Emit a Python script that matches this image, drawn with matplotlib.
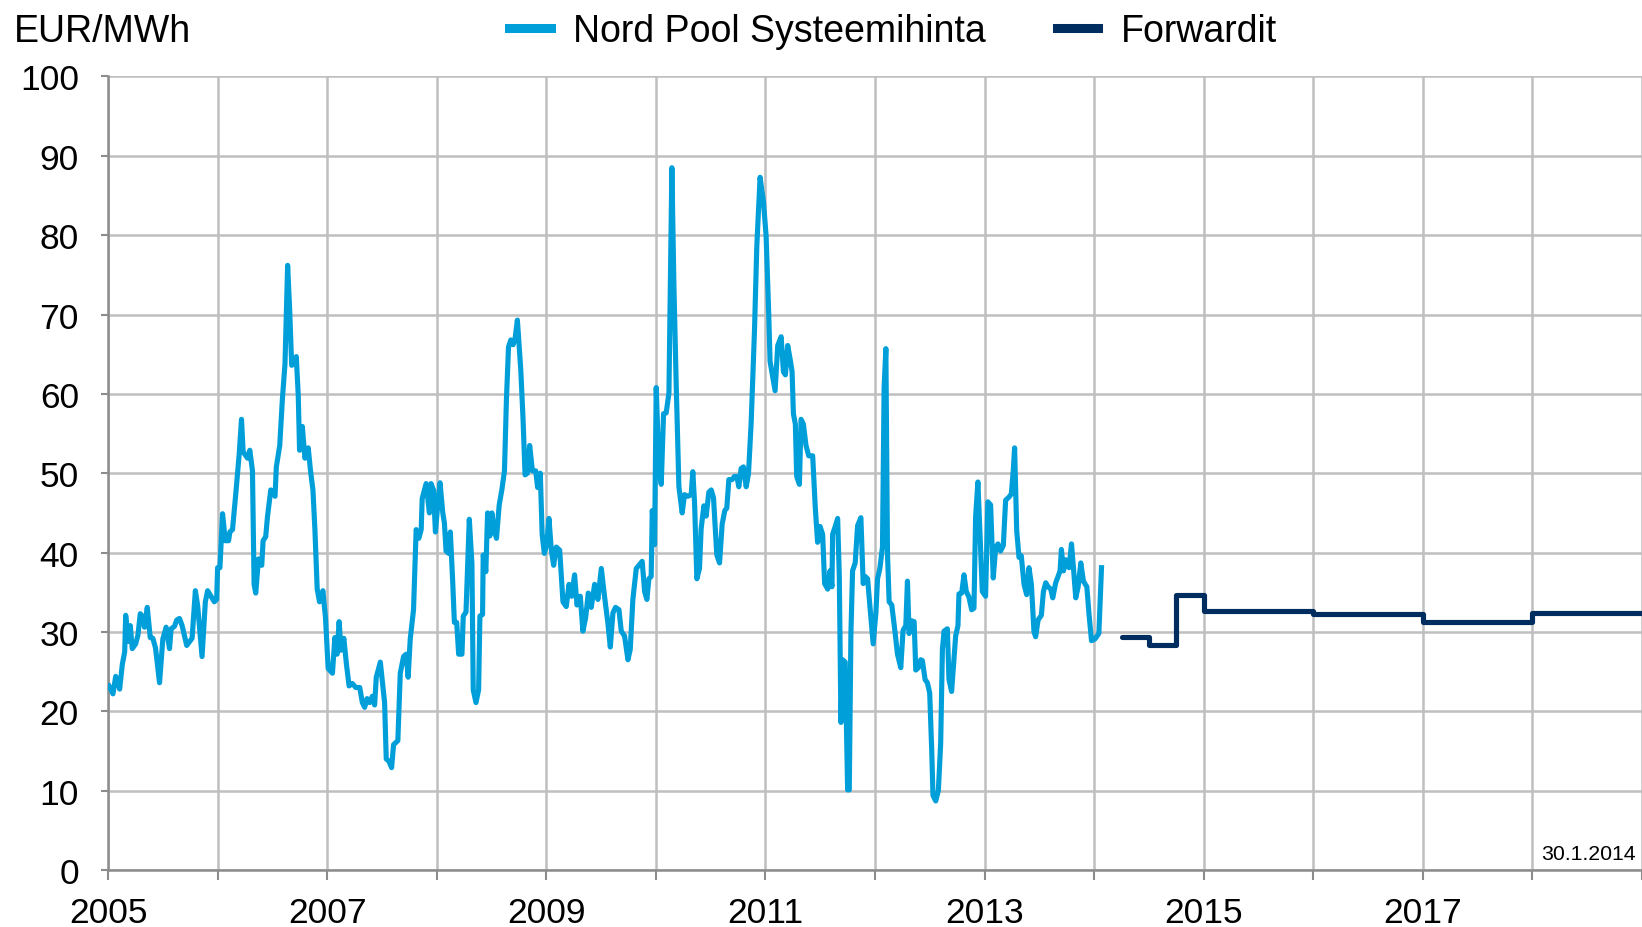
import matplotlib.pyplot as plt
from matplotlib.lines import Line2D

plt.rcParams['font.family'] = ['Liberation Sans', 'DejaVu Sans']

# Nord Pool system price (decimal year, EUR/MWh)
spot_year = [
    2005.009, 2005.045, 2005.070, 2005.106, 2005.130, 2005.152, 2005.161, 2005.185, 2005.203, 2005.221,
    2005.252, 2005.273, 2005.294, 2005.312, 2005.333, 2005.358, 2005.385, 2005.409, 2005.433, 2005.470,
    2005.500, 2005.530, 2005.561, 2005.576, 2005.606, 2005.627, 2005.652, 2005.676, 2005.718, 2005.767,
    2005.797, 2005.818, 2005.858, 2005.888, 2005.909, 2005.970, 2005.991,
    2006.000, 2006.021, 2006.045, 2006.070, 2006.100, 2006.112, 2006.136, 2006.167, 2006.197, 2006.218,
    2006.233, 2006.273, 2006.294, 2006.318, 2006.333, 2006.348, 2006.373, 2006.403, 2006.415, 2006.439,
    2006.455, 2006.485, 2006.524, 2006.536, 2006.567, 2006.591, 2006.615, 2006.639, 2006.658, 2006.676,
    2006.694, 2006.718, 2006.736, 2006.748, 2006.773, 2006.797, 2006.827, 2006.848, 2006.870, 2006.888,
    2006.909, 2006.930, 2006.961, 2006.985,
    2007.009, 2007.048, 2007.070, 2007.091, 2007.109, 2007.127, 2007.152, 2007.176, 2007.200, 2007.230,
    2007.261, 2007.297, 2007.321, 2007.342, 2007.364, 2007.388, 2007.412, 2007.433, 2007.448, 2007.485,
    2007.524, 2007.539, 2007.564, 2007.588, 2007.606, 2007.645, 2007.667, 2007.697, 2007.721, 2007.739,
    2007.758, 2007.788, 2007.812, 2007.836, 2007.858, 2007.867, 2007.903, 2007.933, 2007.948, 2007.970,
    2007.988,
    2008.009, 2008.030, 2008.055, 2008.070, 2008.085, 2008.109, 2008.124, 2008.145, 2008.161, 2008.182,
    2008.200, 2008.230, 2008.242, 2008.267, 2008.297, 2008.321, 2008.333, 2008.358, 2008.382, 2008.394,
    2008.418, 2008.424, 2008.448, 2008.464, 2008.485, 2008.503, 2008.524, 2008.545, 2008.570, 2008.594,
    2008.618, 2008.636, 2008.655, 2008.676, 2008.697, 2008.715, 2008.736, 2008.767, 2008.788, 2008.806,
    2008.827, 2008.848, 2008.873, 2008.903, 2008.921, 2008.945, 2008.962, 2008.982,
    2009.003, 2009.024, 2009.046, 2009.067, 2009.091, 2009.122, 2009.152, 2009.182, 2009.207, 2009.231,
    2009.258, 2009.280, 2009.310, 2009.334, 2009.359, 2009.383, 2009.410, 2009.441, 2009.471, 2009.502,
    2009.532, 2009.562, 2009.584, 2009.608, 2009.632, 2009.663, 2009.684, 2009.714, 2009.745, 2009.766,
    2009.790, 2009.821, 2009.845, 2009.875, 2009.897, 2009.918, 2009.936, 2009.957, 2009.967, 2009.988,
    2010.003, 2010.027, 2010.049, 2010.070, 2010.094, 2010.119, 2010.146, 2010.164, 2010.185, 2010.210,
    2010.240, 2010.261, 2010.292, 2010.322, 2010.337, 2010.353, 2010.374, 2010.398, 2010.413, 2010.438,
    2010.459, 2010.483, 2010.505, 2010.526, 2010.556, 2010.581, 2010.605, 2010.629, 2010.647, 2010.666,
    2010.696, 2010.717, 2010.739, 2010.757, 2010.778, 2010.799, 2010.824, 2010.845, 2010.869, 2010.900,
    2010.921, 2010.951, 2010.982,
    2011.006, 2011.030, 2011.042, 2011.067, 2011.088, 2011.112, 2011.143, 2011.164, 2011.182, 2011.203,
    2011.225, 2011.243, 2011.255, 2011.273, 2011.285, 2011.310, 2011.325, 2011.346, 2011.370, 2011.395,
    2011.431, 2011.455, 2011.476, 2011.498, 2011.522, 2011.540, 2011.568, 2011.589, 2011.607, 2011.613,
    2011.637, 2011.659, 2011.674, 2011.689, 2011.704, 2011.728, 2011.750, 2011.765, 2011.780, 2011.795,
    2011.819, 2011.841, 2011.871, 2011.892, 2011.910, 2011.932, 2011.962, 2011.983,
    2012.008, 2012.023, 2012.044, 2012.068, 2012.083, 2012.099, 2012.114, 2012.129, 2012.153, 2012.184,
    2012.205, 2012.235, 2012.256, 2012.281, 2012.296, 2012.311, 2012.335, 2012.357, 2012.372, 2012.396,
    2012.417, 2012.432, 2012.457, 2012.478, 2012.499, 2012.517, 2012.529, 2012.554, 2012.578, 2012.599,
    2012.615, 2012.630, 2012.660, 2012.675, 2012.699, 2012.720, 2012.736, 2012.757, 2012.766, 2012.791,
    2012.812, 2012.833, 2012.857, 2012.882, 2012.903, 2012.918, 2012.939, 2012.957, 2012.979,
    2013.009, 2013.030, 2013.055, 2013.079, 2013.101, 2013.122, 2013.146, 2013.171, 2013.192, 2013.223,
    2013.244, 2013.262, 2013.274, 2013.293, 2013.314, 2013.335, 2013.360, 2013.384, 2013.405, 2013.427,
    2013.451, 2013.466, 2013.488, 2013.518, 2013.537, 2013.558, 2013.579, 2013.604, 2013.622, 2013.649,
    2013.671, 2013.689, 2013.701, 2013.720, 2013.741, 2013.771, 2013.793, 2013.811, 2013.832, 2013.854,
    2013.878, 2013.902, 2013.933, 2013.954, 2013.976,
    2014.006, 2014.043, 2014.067,
]
spot_price = [
    23.2, 22.2, 24.4, 22.8, 25.9, 27.5, 32.1, 28.8, 30.8, 27.9,
    28.5, 29.6, 32.3, 32.0, 30.6, 33.1, 29.3, 29.2, 28.0, 23.6,
    29.1, 30.6, 27.9, 30.4, 30.7, 31.5, 31.7, 30.8, 28.3, 29.2,
    35.2, 33.3, 26.9, 33.8, 35.2, 33.8, 34.1,
    38.1, 38.1, 44.9, 41.5, 41.5, 42.6, 42.9, 47.6, 52.4, 56.8,
    52.7, 51.9, 52.9, 50.3, 36.0, 34.9, 39.2, 38.4, 41.5, 42.0,
    44.5, 47.9, 47.1, 50.8, 53.5, 59.3, 63.8, 76.2, 70.5, 63.6,
    63.8, 64.7, 59.8, 52.9, 55.9, 51.9, 53.2, 50.3, 47.9, 42.9,
    35.4, 33.8, 35.2, 31.7,
    25.4, 24.8, 29.3, 27.2, 31.3, 27.7, 29.2, 25.9, 23.2, 23.5,
    23.0, 23.0, 21.1, 20.5, 21.6, 21.1, 21.9, 20.8, 24.3, 26.2,
    21.1, 14.0, 13.7, 12.9, 15.8, 16.3, 24.8, 26.9, 27.2, 24.3,
    29.1, 32.8, 42.9, 41.8, 42.9, 46.8, 48.7, 45.0, 48.7, 47.9,
    42.6,
    46.0, 48.8, 45.0, 43.7, 40.2, 39.9, 42.6, 36.5, 31.2, 31.2,
    27.2, 27.2, 32.0, 32.5, 44.2, 38.6, 22.7, 21.1, 22.7, 32.0,
    32.2, 39.7, 37.6, 45.0, 42.1, 45.0, 42.9, 41.8, 46.0, 47.9,
    50.3, 59.3, 65.9, 66.8, 66.2, 67.0, 69.3, 63.0, 56.7, 49.8,
    50.0, 53.5, 50.3, 50.3, 48.2, 50.0, 42.3, 39.9,
    41.0, 44.3, 40.3, 38.4, 40.7, 40.3, 33.8, 33.2, 36.0, 34.5,
    37.2, 33.4, 34.5, 30.1, 31.8, 34.9, 33.1, 36.0, 34.1, 38.0,
    34.4, 31.1, 28.1, 32.4, 33.1, 32.8, 30.1, 29.5, 26.5, 27.8,
    34.1, 38.0, 38.4, 38.9, 35.1, 34.1, 36.7, 37.0, 45.3, 41.0,
    60.8, 50.9, 48.6, 57.5, 57.6, 60.1, 88.5, 74.0, 61.4, 48.3,
    45.0, 47.3, 47.1, 47.3, 50.2, 46.3, 36.7, 38.0, 43.0, 45.9,
    44.6, 47.6, 47.9, 46.9, 39.7, 38.7, 43.6, 45.3, 45.6, 49.2,
    49.2, 49.6, 49.6, 48.3, 50.6, 50.8, 48.3, 49.9, 56.2, 68.0,
    78.6, 87.3, 84.2,
    79.9, 70.0, 64.1, 62.1, 60.4, 66.1, 67.2, 62.8, 62.4, 66.1,
    64.4, 62.8, 57.5, 56.2, 49.6, 48.6, 56.8, 56.2, 53.5, 52.2,
    52.2, 45.6, 41.3, 43.3, 42.3, 36.1, 35.4, 37.7, 35.7, 42.3,
    43.3, 44.3, 37.0, 18.6, 26.5, 26.2, 10.1, 10.1, 29.8, 37.7,
    38.7, 43.4, 44.4, 36.1, 37.0, 36.7, 31.8, 28.5,
    32.4, 36.7, 38.0, 40.7, 60.8, 65.7, 39.7, 33.8, 33.4, 29.8,
    27.2, 25.5, 30.2, 30.8, 36.4, 29.8, 31.4, 31.3, 25.2, 25.5,
    26.5, 26.4, 24.0, 23.6, 22.3, 15.3, 9.4, 8.7, 10.0, 15.9,
    27.8, 30.1, 30.4, 24.0, 22.5, 26.5, 29.5, 30.8, 34.8, 34.9,
    37.2, 35.1, 34.4, 32.8, 33.0, 44.5, 48.9, 42.8, 35.1,
    34.5, 46.4, 46.0, 36.8, 40.6, 41.1, 40.2, 40.9, 46.6, 47.0,
    47.4, 50.4, 53.2, 42.8, 39.4, 39.6, 36.0, 34.7, 38.1, 36.0,
    30.0, 29.4, 31.5, 32.1, 35.1, 36.2, 35.7, 35.4, 34.3, 36.2,
    37.0, 37.7, 40.4, 37.7, 39.1, 38.1, 41.1, 38.1, 34.3, 35.7,
    38.7, 36.4, 35.7, 32.1, 28.9,
    29.1, 29.8, 38.1,
]

# forward prices: Q2-Q4 2014, then yearly contracts 2015-2018
fwd_year = [2014.25, 2014.5, 2014.75, 2015, 2016, 2017, 2018, 2019]
fwd_price = [29.4, 28.3, 34.6, 32.7, 32.3, 31.3, 32.4, 32.4]

spot_color = '#009FDA'
fwd_color = '#002D5F'
grid_color = '#BFBFBF'

fig = plt.figure(figsize=(16.42, 9.28), dpi=100)
ax = fig.add_axes([0.0658, 0.0614, 0.9342, 0.8551])

ax.plot(spot_year, spot_price, color=spot_color, lw=3.7, solid_joinstyle='round', zorder=3)
ax.plot(fwd_year, fwd_price, color=fwd_color, lw=3.7, drawstyle='steps-post',
        solid_capstyle='round', zorder=3)

ax.set_xlim(2005, 2019)
ax.set_ylim(0, 100)
ax.set_yticks(range(0, 101, 10))
years = list(range(2005, 2020))
ax.set_xticks(years)
ax.set_xticklabels([str(y) if (y % 2 == 1 and y < 2019) else '' for y in years])
ax.grid(True, color=grid_color, lw=1.8)
ax.set_axisbelow(True)

for s in ['top', 'right']:
    ax.spines[s].set_visible(False)
for s in ['left', 'bottom']:
    ax.spines[s].set_color('#8C8C8C')
    ax.spines[s].set_linewidth(1.8)
ax.tick_params(axis='y', length=5, width=1.5, color='#8C8C8C', pad=16, labelsize=25.5)
ax.tick_params(axis='x', length=7, width=1.5, color='#8C8C8C', pad=12, labelsize=25.5)

ax.text(0.996, 0.021, '30.1.2014', transform=ax.transAxes, ha='right', va='center', fontsize=15.3)

fig.text(14 / 1642, 0.965, 'EUR/MWh', ha='left', va='center', fontsize=27)
handles = [Line2D([], [], color=spot_color, lw=6.5), Line2D([], [], color=fwd_color, lw=6.5)]
fig.legend(handles, ['Nord Pool Systeemihinta', 'Forwardit'], loc='center',
           bbox_to_anchor=(0.544, 0.965), ncol=2, frameon=False, fontsize=27,
           handlelength=1.1, handletextpad=0.6, columnspacing=1.9)

fig.savefig('out.png', dpi=100)
